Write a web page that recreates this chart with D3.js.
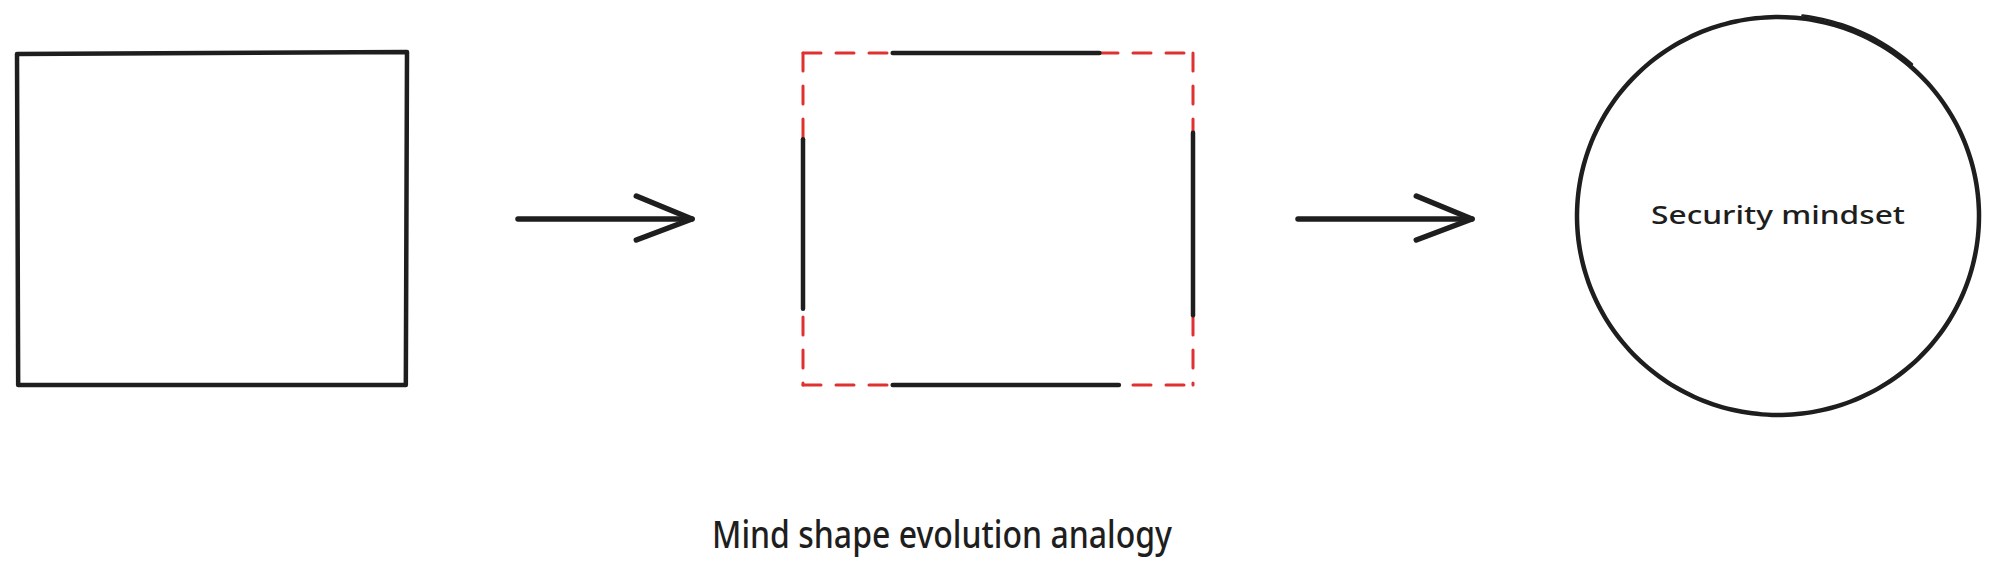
<!DOCTYPE html>
<html>
<head>
<meta charset="utf-8">
<script src="https://cdn.jsdelivr.net/npm/d3@7"></script>
<style>
  html, body { margin: 0; padding: 0; background: #fff; }
  svg { display: block; }
</style>
</head>
<body>
<div id="diagram"></div>
<script>
// stages of the analogy, left to right
const stages = ['closed', 'opening', 'mindset'];
const stageLabels = ['', '', 'Security mindset'];
const stageShapes = ['solid', 'gapped', 'circle'];
const title = 'Mind shape evolution analogy';

// black pieces left on the dashed box, as a share of each side
const gapSides = ['top', 'bottom', 'left', 'right'];
const gapFrom = [0.23, 0.23, 0.26, 0.24];
const gapTo = [0.76, 0.81, 0.77, 0.79];

// arrows between stages
const links = [['closed', 'opening'], ['opening', 'mindset']];

const width = 1998, height = 579;
const ink = '#1e1e1e', red = '#e03131';
const boxW = 390, boxH = 332, circleRx = 201, circleRy = 199;
const midY = 219;
const font = "'Comic Sans MS', 'Noto Sans', sans-serif";

const svg = d3.select('#diagram').append('svg')
  .attr('width', width)
  .attr('height', height);

const cx = d3.scaleOrdinal().domain(stages).range([212, 998, 1778]);

const boxScales = stage => ({
  x: d3.scaleLinear().domain([0, 1]).range([cx(stage) - boxW / 2, cx(stage) + boxW / 2]),
  y: d3.scaleLinear().domain([0, 1]).range([midY - boxH / 2, midY + boxH / 2])
});

const sideLine = (s, side, a, b) => {
  if (side === 'top') return [[s.x(a), s.y(0)], [s.x(b), s.y(0)]];
  if (side === 'bottom') return [[s.x(a), s.y(1)], [s.x(b), s.y(1)]];
  if (side === 'left') return [[s.x(0), s.y(a)], [s.x(0), s.y(b)]];
  return [[s.x(1), s.y(a)], [s.x(1), s.y(b)]];
};

const line = d3.line();

stages.forEach((stage, i) => {
  const g = svg.append('g').attr('class', `stage ${ stage }`);
  const kind = stageShapes[i];

  if (kind === 'solid') {
    const s = boxScales(stage);
    g.append('path')
      .attr('d', line([[s.x(0), s.y(0.003)], [s.x(1), s.y(-0.003)], [s.x(0.997), s.y(1)],
        [s.x(0.003), s.y(1)], [s.x(0), s.y(0.003)]]) + 'Z')
      .attr('fill', 'none')
      .attr('stroke', ink)
      .attr('stroke-width', 4.5)
      .attr('stroke-linejoin', 'round');
  }

  if (kind === 'gapped') {
    const s = boxScales(stage);
    gapSides.forEach(side => {
      g.append('path')
        .attr('d', line(sideLine(s, side, 0, 1)))
        .attr('stroke', red)
        .attr('stroke-width', 3)
        .attr('stroke-dasharray', '18 15')
        .attr('stroke-linecap', 'round')
        .attr('fill', 'none');
    });
    gapSides.forEach((side, k) => {
      g.append('path')
        .attr('d', line(sideLine(s, side, gapFrom[k], gapTo[k])))
        .attr('stroke', ink)
        .attr('stroke-width', 4.5)
        .attr('stroke-linecap', 'round')
        .attr('fill', 'none');
    });
  }

  if (kind === 'circle') {
    const x = cx(stage), y = midY - 3;
    const pts = (r0, r1, a0, a1, step) => d3.range(a0, a1, step)
      .map(a => [x + (circleRx + r0) * Math.cos(a), y + (circleRy + r1) * Math.sin(a)]);
    g.append('path')
      .attr('d', d3.line().curve(d3.curveCardinalClosed)(pts(0, 0, 0, Math.PI * 2, 0.05)))
      .attr('fill', 'none')
      .attr('stroke', ink)
      .attr('stroke-width', 4.5);
    // second pass of the pen over the top right
    g.append('path')
      .attr('d', d3.line().curve(d3.curveCardinal)(pts(2, 3, -1.45, -0.8, 0.05)))
      .attr('fill', 'none')
      .attr('stroke', ink)
      .attr('stroke-width', 2.5)
      .attr('stroke-linecap', 'round');
  }

  if (stageLabels[i]) {
    g.append('text')
      .attr('x', cx(stage))
      .attr('y', midY + 5)
      .attr('text-anchor', 'middle')
      .attr('font-family', font)
      .attr('font-size', 26)
      .attr('font-weight', 500)
      .attr('fill', ink)
      .attr('textLength', 254)
      .attr('lengthAdjust', 'spacingAndGlyphs')
      .text(stageLabels[i]);
  }
});

// arrows sit in the middle of the gap between two stages
const edgeRight = stage => stageShapes[stages.indexOf(stage)] === 'circle' ? cx(stage) + circleRx : cx(stage) + boxW / 2;
const edgeLeft = stage => stageShapes[stages.indexOf(stage)] === 'circle' ? cx(stage) - circleRx : cx(stage) - boxW / 2;

links.forEach(([from, to]) => {
  const mid = (edgeRight(from) + edgeLeft(to)) / 2;
  const ax = d3.scaleLinear().domain([0, 1]).range([mid - 87, mid + 87]);
  const g = svg.append('g').attr('class', 'arrow');
  g.append('path')
    .attr('d', line([[ax(0), midY], [ax(1), midY]]))
    .attr('stroke', ink)
    .attr('stroke-width', 5.5)
    .attr('stroke-linecap', 'round');
  g.append('path')
    .attr('d', line([[ax(0.68), midY - 23], [ax(1), midY], [ax(0.68), midY + 21]]))
    .attr('fill', 'none')
    .attr('stroke', ink)
    .attr('stroke-width', 5.5)
    .attr('stroke-linecap', 'round')
    .attr('stroke-linejoin', 'round');
});

svg.append('text')
  .attr('x', 942)
  .attr('y', 548)
  .attr('text-anchor', 'middle')
  .attr('font-family', font)
  .attr('font-size', 38)
  .attr('font-weight', 500)
  .attr('fill', ink)
  .attr('textLength', 460)
  .attr('lengthAdjust', 'spacingAndGlyphs')
  .text(title);
</script>
</body>
</html>
